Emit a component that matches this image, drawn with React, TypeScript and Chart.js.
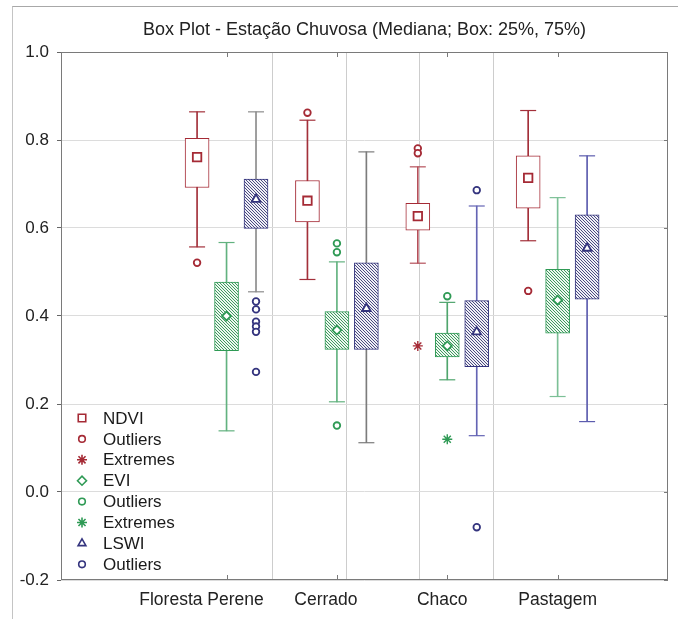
import React, { useEffect, useRef } from 'react';
import { Chart, registerables, PointElement } from 'chart.js';

Chart.register(...registerables);

// ---------------- data ----------------
const chartTitle = 'Box Plot - Estação Chuvosa (Mediana; Box: 25%, 75%)';
const categories = ['Floresta Perene', 'Cerrado', 'Chaco', 'Pastagem'];
const categoryPositions = [1, 2, 3, 4];
const yTickValues = [-0.2, 0.0, 0.2, 0.4, 0.6, 0.8, 1.0];

// NDVI
const ndviWhiskerLow = [0.557, 0.483, 0.52, 0.571];
const ndviQ1 = [0.692, 0.614, 0.595, 0.645];
const ndviMedian = [0.761, 0.662, 0.627, 0.714];
const ndviQ3 = [0.804, 0.708, 0.656, 0.764];
const ndviWhiskerHigh = [0.864, 0.845, 0.739, 0.867];
const ndviOutliers = [[0.521], [0.862], [0.781, 0.77], [0.457]];
const ndviExtremes = [[], [], [0.332], []];

// EVI
const eviWhiskerLow = [0.139, 0.205, 0.255, 0.217];
const eviQ1 = [0.321, 0.324, 0.307, 0.361];
const eviMedian = [0.4, 0.368, 0.332, 0.436];
const eviQ3 = [0.477, 0.41, 0.361, 0.506];
const eviWhiskerHigh = [0.567, 0.523, 0.431, 0.669];
const eviOutliers = [[], [0.565, 0.545, 0.151], [0.445], []];
const eviExtremes = [[], [], [0.12], []];

// LSWI
const lswiWhiskerLow = [0.455, 0.112, 0.128, 0.16];
const lswiQ1 = [0.599, 0.324, 0.285, 0.438];
const lswiMedian = [0.665, 0.417, 0.364, 0.554];
const lswiQ3 = [0.711, 0.521, 0.435, 0.63];
const lswiWhiskerHigh = [0.864, 0.773, 0.65, 0.764];
const lswiOutliers = [[0.433, 0.415, 0.387, 0.376, 0.364, 0.273], [], [0.686, -0.08], []];
const lswiExtremes = [[], [], [], []];

const legendLabels = ['NDVI', 'Outliers', 'Extremes', 'EVI', 'Outliers', 'Extremes', 'LSWI', 'Outliers'];

// ---------------- styles ----------------
const FONT = "'Liberation Sans', Arial, Helvetica, sans-serif";
const RED = '#a52a35';
const GREEN = '#2f9a55';
const NAVY = '#34347e';
// horizontal nudge (px) of each category label, as placed in the original figure
const xLabelNudgePx = [-25, -11, -5, 0];

const seriesList = [
  {
    name: 'NDVI', low: ndviWhiskerLow, q1: ndviQ1, median: ndviMedian, q3: ndviQ3, high: ndviWhiskerHigh,
    outliers: ndviOutliers, extremes: ndviExtremes,
  },
  {
    name: 'EVI', low: eviWhiskerLow, q1: eviQ1, median: eviMedian, q3: eviQ3, high: eviWhiskerHigh,
    outliers: eviOutliers, extremes: eviExtremes,
  },
  {
    name: 'LSWI', low: lswiWhiskerLow, q1: lswiQ1, median: lswiMedian, q3: lswiQ3, high: lswiWhiskerHigh,
    outliers: lswiOutliers, extremes: lswiExtremes,
  },
];

const seriesStyle: Record<string, any> = {
  NDVI: { offset: -0.267, color: RED, stem: ['#a3303a', '#a3303a', '#b5505a', '#a3303a'], fill: 'plain', marker: 'rect', markerRadius: 6 },
  EVI: { offset: 0, color: GREEN, stem: ['#62b27f', '#62b27f', '#4fa56d', '#7cc096'], fill: 'evi', marker: 'rectRot', markerRadius: 4.5 },
  LSWI: { offset: 0.267, color: NAVY, stem: ['#8c8c8c', '#7c7c7c', '#6464b4', '#5c5cae'], fill: 'lswi', marker: 'triangle', markerRadius: 5 },
};

const legendSymbols = [
  { pointStyle: 'rect', color: RED, radius: 5.3 },
  { pointStyle: 'circle', color: RED, radius: 3.3 },
  { pointStyle: 'star', color: RED, radius: 5 },
  { pointStyle: 'rectRot', color: GREEN, radius: 4.5 },
  { pointStyle: 'circle', color: GREEN, radius: 3.3 },
  { pointStyle: 'star', color: GREEN, radius: 5 },
  { pointStyle: 'triangle', color: NAVY, radius: 4.5 },
  { pointStyle: 'circle', color: NAVY, radius: 3.3 },
];

function makeHatch(ctx: CanvasRenderingContext2D, bg: string, fg: string) {
  const n = 3;
  const c = document.createElement('canvas');
  c.width = n;
  c.height = n;
  const g = c.getContext('2d')!;
  g.fillStyle = bg;
  g.fillRect(0, 0, n, n);
  g.strokeStyle = fg;
  g.lineWidth = 1;
  g.beginPath();
  g.moveTo(-1, -1); g.lineTo(n + 1, n + 1);
  g.moveTo(-1, n - 1); g.lineTo(1, n + 1);
  g.moveTo(n - 1, -1); g.lineTo(n + 1, 1);
  g.stroke();
  return ctx.createPattern(c, 'repeat');
}

const decorPlugin = {
  id: 'decor',
  afterDatasetsDraw(chart: any) {
    const { ctx, chartArea: a, scales } = chart;
    ctx.save();
    ctx.strokeStyle = '#7a7a7a';
    ctx.lineWidth = 1;
    ctx.strokeRect(a.left + 0.5, a.top + 0.5, a.right - a.left - 1, a.bottom - a.top - 1);
    ctx.beginPath();
    scales.x.ticks.forEach((t: any) => {
      const px = Math.round(scales.x.getPixelForValue(t.value)) + 0.5;
      ctx.moveTo(px, a.bottom);
      ctx.lineTo(px, a.bottom - 5);
      ctx.moveTo(px, a.top);
      ctx.lineTo(px, a.top + 5);
    });
    scales.y.ticks.forEach((t: any) => {
      const py = Math.round(scales.y.getPixelForValue(t.value)) + 0.5;
      ctx.moveTo(a.right, py);
      ctx.lineTo(a.right - 4, py);
    });
    ctx.stroke();
    ctx.restore();
  },
  afterDraw(chart: any) {
    const { ctx, chartArea: a, scales } = chart;
    ctx.save();
    // category labels
    ctx.font = `17.5px ${FONT}`;
    ctx.fillStyle = '#222222';
    ctx.textAlign = 'center';
    ctx.textBaseline = 'top';
    scales.x.ticks.forEach((t: any, i: number) => {
      const px = scales.x.getPixelForValue(t.value) + (xLabelNudgePx[i] || 0);
      ctx.fillText(categories[i], px, a.bottom + 11);
    });
    // legend
    const symX = a.left + 21;
    const textX = a.left + 42;
    const y0 = a.bottom - 162;
    const rowH = 20.9;
    ctx.font = `17px ${FONT}`;
    ctx.textBaseline = 'middle';
    ctx.textAlign = 'left';
    legendLabels.forEach((label, i) => {
      const y = y0 + i * rowH;
      const s = legendSymbols[i];
      const el = new (PointElement as any)({
        x: symX,
        y,
        options: {
          pointStyle: s.pointStyle,
          radius: s.radius,
          rotation: 0,
          borderColor: s.color,
          borderWidth: 1.6,
          backgroundColor: 'rgba(255,255,255,0)',
        },
      });
      el.draw(ctx);
      ctx.fillStyle = '#1a1a1a';
      ctx.fillText(label, textX, y + 1);
    });
    ctx.restore();
  },
};

export default function App() {
  const canvasRef = useRef<HTMLCanvasElement>(null);

  useEffect(() => {
    const canvas = canvasRef.current!;
    const ctx = canvas.getContext('2d')!;
    const fills: Record<string, any> = {
      plain: '#ffffff',
      evi: makeHatch(ctx, '#eef7f0', '#3f9a5f'),
      lswi: makeHatch(ctx, '#efeff6', '#4b4b80'),
    };
    const separatorPositions = categoryPositions.slice(1).map((p) => p - 0.5);

    const datasets: any[] = [];
    seriesList.forEach((s) => {
      const st = seriesStyle[s.name];
      const xs = categoryPositions.map((p) => p + st.offset);
      datasets.push({
        type: 'bar',
        label: s.name + ' whiskers',
        data: xs.map((x, i) => ({ x, y: [s.low[i], s.high[i]] })),
        backgroundColor: st.stem,
        borderWidth: 0,
        grouped: false,
        barThickness: 1,
        maxBarThickness: 1,
        order: 4,
      });
      datasets.push({
        type: 'scatter',
        label: s.name + ' caps',
        data: [...xs.map((x, i) => ({ x, y: s.low[i] })), ...xs.map((x, i) => ({ x, y: s.high[i] }))],
        pointStyle: 'line',
        pointRadius: 8,
        pointBorderColor: [...st.stem, ...st.stem],
        pointBorderWidth: 1.2,
        order: 3,
      });
      datasets.push({
        type: 'bar',
        label: s.name,
        data: xs.map((x, i) => ({ x, y: [s.q1[i], s.q3[i]] })),
        backgroundColor: fills[st.fill],
        borderColor: st.color,
        borderWidth: 1,
        borderSkipped: false,
        grouped: false,
        barThickness: 24,
        maxBarThickness: 24,
        order: 2,
      });
      datasets.push({
        type: 'scatter',
        label: s.name + ' median',
        data: xs.map((x, i) => ({ x, y: s.median[i] })),
        pointStyle: st.marker,
        pointRadius: st.markerRadius,
        pointBorderColor: st.color,
        pointBorderWidth: 1.8,
        pointBackgroundColor: '#ffffff',
        order: 1,
      });
      datasets.push({
        type: 'scatter',
        label: s.name + ' outliers',
        data: xs.flatMap((x, i) => s.outliers[i].map((y) => ({ x, y }))),
        pointStyle: 'circle',
        pointRadius: 3.3,
        pointBorderColor: st.color,
        pointBorderWidth: 1.8,
        pointBackgroundColor: '#ffffff',
        order: 0,
      });
      datasets.push({
        type: 'scatter',
        label: s.name + ' extremes',
        data: xs.flatMap((x, i) => s.extremes[i].map((y) => ({ x, y }))),
        pointStyle: 'star',
        pointRadius: 5,
        pointBorderColor: st.color,
        pointBorderWidth: 1.4,
        order: 0,
      });
    });

    const chart = new Chart(canvas, {
      type: 'bar',
      data: { datasets },
      options: {
        responsive: false,
        animation: false,
        events: [],
        layout: { padding: { left: 0, right: 10, top: 0, bottom: 0 } },
        plugins: {
          legend: { display: false },
          tooltip: { enabled: false },
          title: {
            display: true,
            text: chartTitle,
            fullSize: false,
            color: '#222222',
            font: { family: FONT, size: 18, weight: 'normal' },
            padding: { top: 19, bottom: 11.4 },
          },
        },
        scales: {
          x: {
            type: 'linear',
            min: -0.5,
            max: 5,
            offset: false,
            afterBuildTicks: (sc: any) => {
              sc.ticks = categoryPositions.map((v) => ({ value: v }));
            },
            ticks: { display: false },
            grid: { display: false },
            border: { display: false },
            afterFit: (sc: any) => {
              sc.height = 39;
            },
          },
          xSep: {
            type: 'linear',
            position: 'bottom',
            min: -0.5,
            max: 5,
            afterBuildTicks: (sc: any) => {
              sc.ticks = separatorPositions.map((v) => ({ value: v }));
            },
            ticks: { display: false },
            grid: { color: '#cdcdcd', drawTicks: false },
            border: { display: false },
            afterFit: (sc: any) => {
              sc.height = 0;
            },
          },
          y: {
            type: 'linear',
            min: -0.2,
            max: 1.0,
            afterBuildTicks: (sc: any) => {
              sc.ticks = yTickValues.map((v) => ({ value: v }));
            },
            ticks: {
              callback: (v: any) => Number(v).toFixed(1),
              font: { family: FONT, size: 17 },
              color: '#222222',
              padding: 8,
            },
            grid: { color: '#dcdcdc', tickColor: '#666666', tickLength: 4 },
            border: { display: false },
            afterFit: (sc: any) => {
              sc.width = 61;
            },
          },
        },
      } as any,
      plugins: [decorPlugin],
    });

    return () => chart.destroy();
  }, []);

  return (
    <div style={{ position: 'fixed', left: 0, top: 0, width: 678, height: 619, background: '#ffffff' }}>
      <div
        style={{
          position: 'absolute',
          left: 12,
          top: 6,
          right: 0,
          bottom: 0,
          borderLeft: '1px solid #c4c4c4',
          borderTop: '1px solid #a8a8a8',
        }}
      />
      <canvas ref={canvasRef} width={678} height={619} style={{ position: 'absolute', left: 0, top: 0, display: 'block' }} />
    </div>
  );
}
